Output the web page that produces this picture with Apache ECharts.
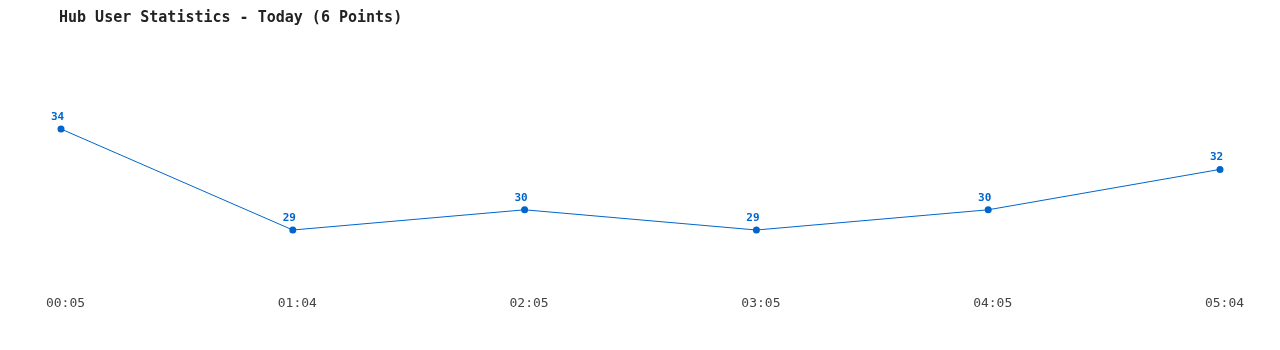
<!DOCTYPE html>
<html>
<head>
<meta charset="utf-8">
<script src="https://cdn.jsdelivr.net/npm/echarts@6/dist/echarts.min.js"></script>
<style>html,body{margin:0;padding:0;background:#fff}#c{width:1280px;height:350px}</style>
</head>
<body>
<div id="c"></div>
<script>
var categories = ['00:05', '01:04', '02:05', '03:05', '04:05', '05:04'];
var users = [34, 29, 30, 29, 30, 32];
var titleText = 'Hub User Statistics - Today (6 Points)';

var chart = echarts.init(document.getElementById('c'), null, {renderer: 'canvas'});
chart.setOption({
  animation: false,
  backgroundColor: '#ffffff',
  title: {
    text: titleText,
    left: 54,
    top: 6,
    textStyle: {fontFamily: 'DejaVu Sans Mono', fontSize: 15, fontWeight: 'bold', color: '#222222'}
  },
  grid: {left: 61, right: 60, top: 68.4, bottom: 59.4, containLabel: false},
  xAxis: {
    type: 'category',
    data: categories,
    boundaryGap: false,
    axisLine: {show: false},
    axisTick: {show: false},
    splitLine: {show: false},
    axisLabel: {
      margin: 7,
      padding: [0, 0, 0, 9],
      fontFamily: 'DejaVu Sans Mono',
      fontSize: 13,
      color: '#444444'
    }
  },
  yAxis: {
    type: 'value',
    min: 26,
    max: 37,
    show: false
  },
  series: [{
    type: 'line',
    data: users,
    symbol: 'circle',
    symbolSize: 7,
    lineStyle: {color: '#0066cc', width: 1},
    itemStyle: {color: '#0066cc'},
    label: {
      show: true,
      position: 'top',
      distance: 3,
      offset: [-3.5, 0],
      fontFamily: 'DejaVu Sans Mono',
      fontSize: 11,
      fontWeight: 'bold',
      color: '#0066cc'
    }
  }]
});
</script>
</body>
</html>
